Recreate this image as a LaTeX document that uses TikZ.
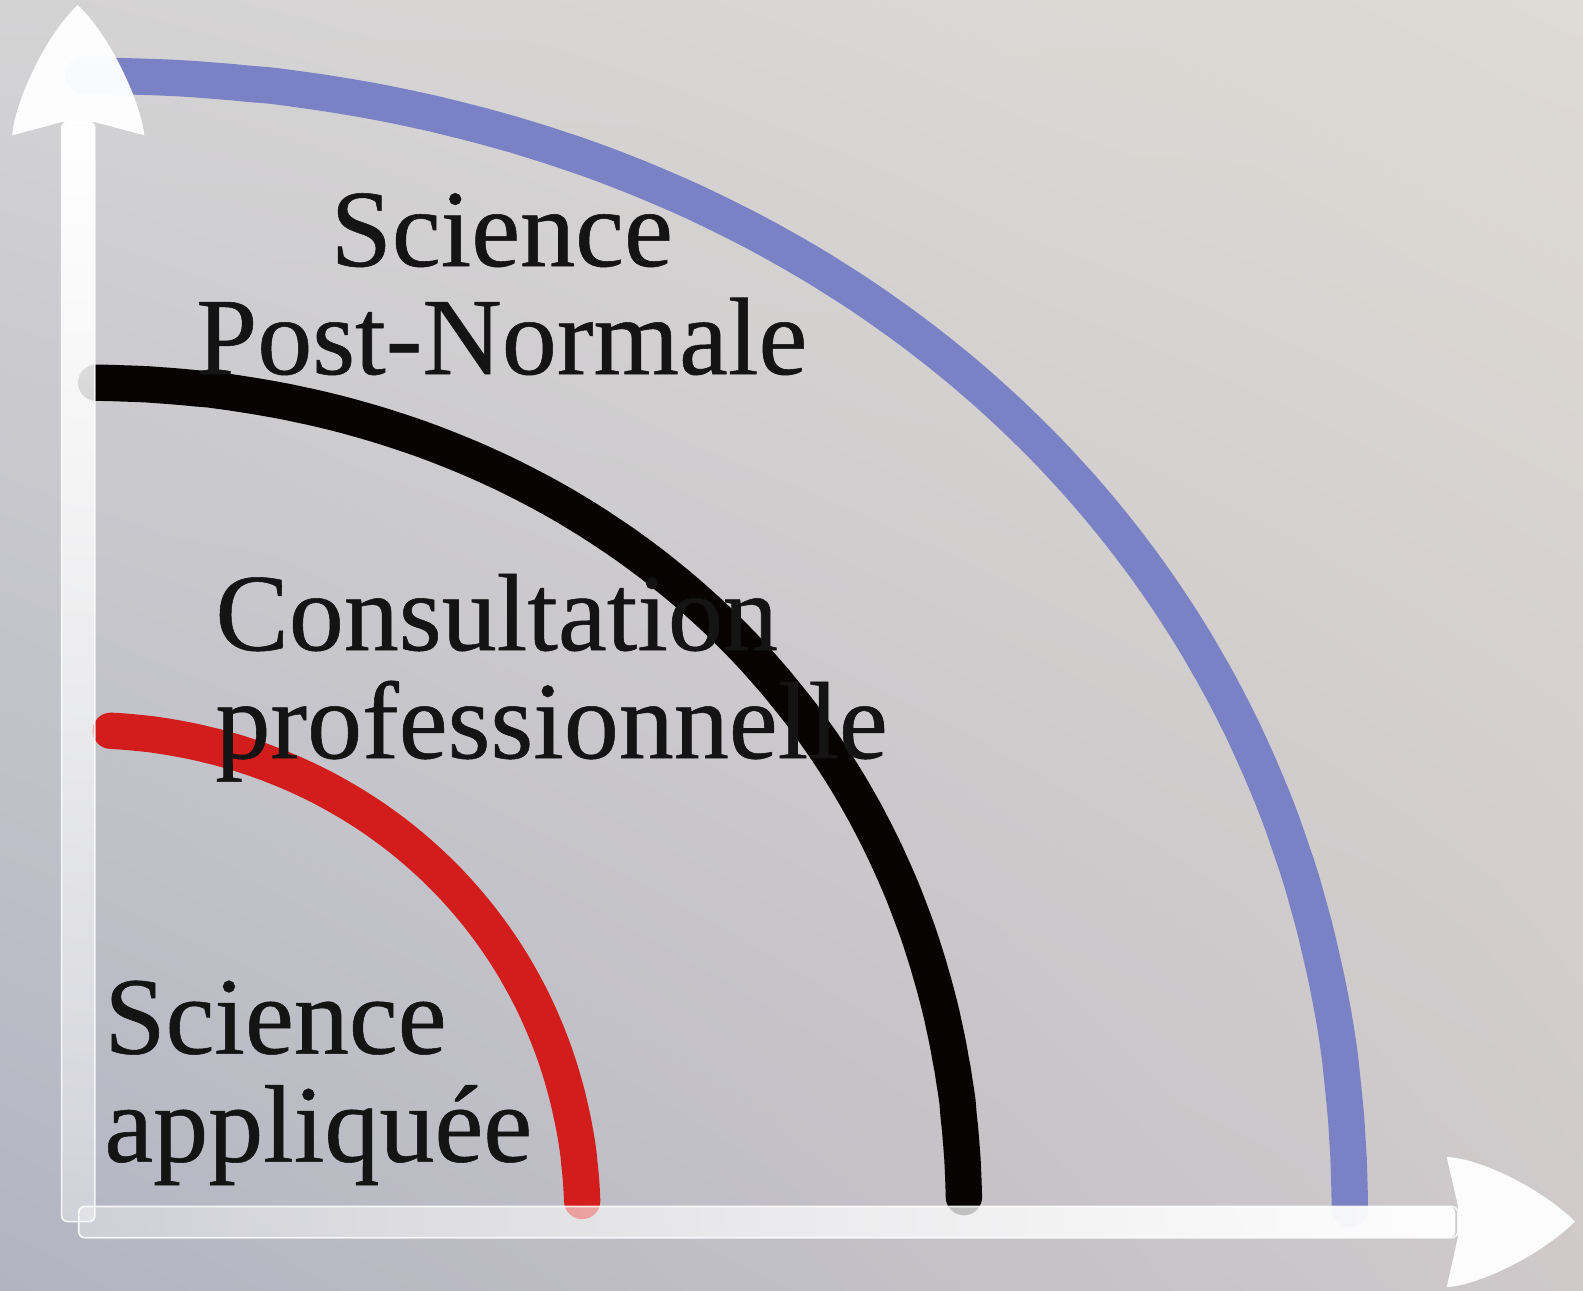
\documentclass[tikz,border=0pt]{standalone}
\usepackage{fontspec}
\setmainfont{Liberation Serif}
\newfontfamily\lblfont{Liberation Serif}[FakeBold=0.5]
\usetikzlibrary{fadings,shadings}
\definecolor{bgUL}{RGB}{212,211,212}
\definecolor{bgUR}{RGB}{222,218,212}
\definecolor{bgLL}{RGB}{178,180,193}
\definecolor{bgLR}{RGB}{207,201,202}
\definecolor{blueArc}{RGB}{123,129,197}
\definecolor{redArc}{RGB}{211,29,29}
\definecolor{blackArc}{RGB}{6,3,2}
\definecolor{txtc}{RGB}{20,20,20}
\tikzfading[name=fadeup, bottom color=transparent!62, top color=transparent!0]
\tikzfading[name=faderight, left color=transparent!65, right color=transparent!2]
\begin{document}
\begin{tikzpicture}[x=0.5pt,y=-0.5pt,
  arcline/.style={line width=18pt,line cap=round,line join=round},
  lbl/.style={font=\lblfont\fontsize{54.5}{53.5}\selectfont,text=txtc,inner sep=0pt},
  axisedge/.style={draw=white,line width=0.8pt,draw opacity=0.85,rounded corners=3},
  headfill/.style={fill=white,fill opacity=0.96}]
\useasboundingbox (0,0) rectangle (1568,1278);
\shade[upper left=bgUL,upper right=bgUR,lower left=bgLL,lower right=bgLR] (0,0) rectangle (1568,1278);
% origin of the axes
\coordinate (O) at (78,1210);
% arcs: quarter superellipses about O
\draw[arcline,draw=blueArc] plot[domain=0.5:89.85,samples=120,variable=\t]
  ({78+1259*cos(\t)^(2/2.1)},{1210-1135*sin(\t)^(2/2.1)});
\draw[arcline,draw=blackArc] plot[domain=1.4:89.1,samples=120,variable=\t]
  ({78+877*cos(\t)^(2/2.1)},{1210-831*sin(\t)^(2/2.1)});
\draw[arcline,draw=redArc] plot[domain=2.2:86.6,samples=100,variable=\t]
  ({78+499*cos(\t)^(2/2.05)},{1210-487*sin(\t)^(2/2.05)});
% axes
\fill[white,path fading=fadeup,rounded corners=3] (61,121) rectangle (94,1210);
\draw[axisedge] (61,121) rectangle (94,1210);
\fill[white,path fading=faderight,rounded corners=3] (78,1195) rectangle (1444,1226);
\draw[axisedge] (78,1195) rectangle (1444,1226);
\fill[headfill] (77,5) .. controls (109,35) and (139,100) .. (143,134) -- (94,121) -- (61,121) -- (12,134) .. controls (15,100) and (45,35) .. (77,5) -- cycle;
\fill[headfill] (1560,1210) .. controls (1530,1180) and (1470,1148) .. (1433,1146) -- (1444,1194) -- (1444,1226) -- (1433,1275) .. controls (1470,1272) and (1530,1240) .. (1560,1210) -- cycle;
% labels
\node[lbl,align=center,anchor=north] (spn) at (497,191) {Science\\Post-Normale};
\node[lbl,align=left,anchor=north west] (cp) at (213,568) {Consultation\\professionnelle};
\node[lbl,align=left,anchor=north west] (sa) at (103,971) {Science\\appliquée};
\end{tikzpicture}
\end{document}
